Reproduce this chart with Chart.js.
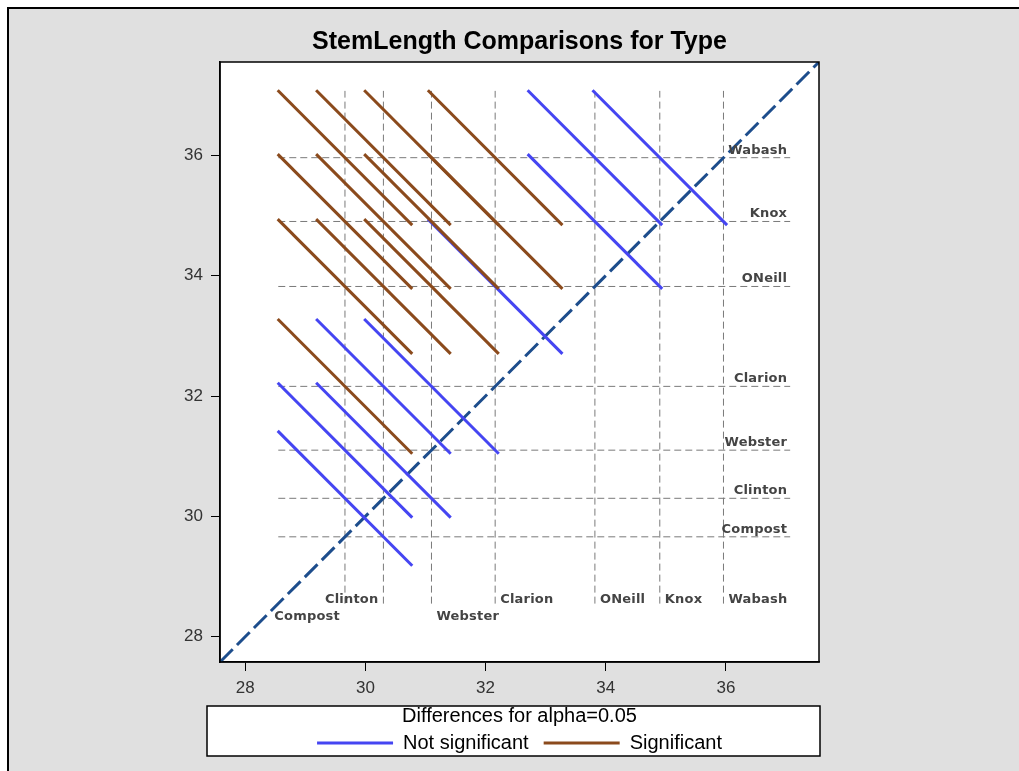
<!DOCTYPE html>
<html>
<head>
<title>StemLength Comparisons for Type</title>
<script src="https://cdn.jsdelivr.net/npm/chart.js"></script>
<style>
  body { margin: 0; background: #fff; }
  #wrap { width: 1019px; height: 771px; }
</style>
</head>
<body>
<div id="wrap"><canvas id="chart"></canvas></div>
<script>
// group means (LS-means of StemLength by Type)
const types = ['Compost', 'Clinton', 'Webster', 'Clarion', 'ONeill', 'Knox', 'Wabash'];
const means = [29.66, 30.30, 31.10, 32.16, 33.82, 34.90, 35.96];

// pairwise comparisons: index of lower / higher mean, significance at alpha=0.05
const pairLow  = [0, 0, 0, 0, 0, 0, 1, 1, 1, 1, 1, 2, 2, 2, 2, 3, 3, 3, 4, 4, 5];
const pairHigh = [1, 2, 3, 4, 5, 6, 2, 3, 4, 5, 6, 3, 4, 5, 6, 4, 5, 6, 5, 6, 6];
const significant = [0, 0, 1, 1, 1, 1, 0, 0, 1, 1, 1, 0, 1, 1, 1, 0, 1, 1, 0, 0, 0];
const halfWidth = 1.12;   // half of the LSD interval

// extent of the reference lines
const refLo = 28.55;
const refHi = 37.07;

const axisMin = 27.58, axisMax = 37.55;
const tickValues = [28, 30, 32, 34, 36];

const BLUE = '#4545f2';
const BROWN = '#8b4a1c';
const DIAG = '#1d4d8c';
const REF = '#7a7a7a';

const datasets = [];

// diffogram segments, slope -1, centred on (mean low, mean high)
pairLow.forEach((lo, i) => {
  const hi = pairHigh[i];
  const sig = significant[i] === 1;
  datasets.push({
    data: [
      { x: means[lo] - halfWidth, y: means[hi] + halfWidth },
      { x: means[lo] + halfWidth, y: means[hi] - halfWidth }
    ],
    borderColor: sig ? BROWN : BLUE,
    borderWidth: 3,
    order: sig ? 0 : 1
  });
});

// diagonal
datasets.push({
  data: [{ x: axisMin, y: axisMin }, { x: axisMax, y: axisMax }],
  borderColor: DIAG,
  borderWidth: 3,
  borderDash: [18, 6],
  order: 2
});

// reference lines at each mean
means.forEach(m => {
  datasets.push({
    data: [{ x: refLo, y: m }, { x: refHi, y: m }],
    borderColor: REF, borderWidth: 1, borderDash: [7, 4], order: 3
  });
  datasets.push({
    data: [{ x: m, y: refLo }, { x: m, y: refHi }],
    borderColor: REF, borderWidth: 1, borderDash: [7, 4], order: 3
  });
});

// where the type names go (row 1/2 at the bottom, side of the vertical line)
const bottomPlace = {
  Compost: { row: 2, side: 'left' },
  Clinton: { row: 1, side: 'left' },
  Webster: { row: 2, side: 'right' },
  Clarion: { row: 1, side: 'right' },
  ONeill:  { row: 1, side: 'right' },
  Knox:    { row: 1, side: 'right' },
  Wabash:  { row: 1, side: 'right' }
};

const framePlugin = {
  id: 'frame',
  beforeDraw(chart) {
    const ctx = chart.ctx;
    const a = chart.chartArea;
    const lg = chart.legend;
    ctx.save();
    ctx.fillStyle = '#e0e0e0';
    ctx.fillRect(8, 8, chart.width - 8, chart.height - 8);
    ctx.strokeStyle = '#000';
    ctx.lineWidth = 2;
    ctx.beginPath();
    ctx.moveTo(8, chart.height);
    ctx.lineTo(8, 8);
    ctx.lineTo(chart.width, 8);
    ctx.stroke();
    ctx.fillStyle = '#fff';
    ctx.fillRect(a.left, a.top, a.right - a.left, a.bottom - a.top);
    ctx.fillRect(a.left - 13, lg.top, a.right - a.left + 14, 50);
    ctx.restore();
  },
  afterDraw(chart) {
    const ctx = chart.ctx;
    const a = chart.chartArea;
    const xs = chart.scales.x, ys = chart.scales.y;
    ctx.save();
    // type labels
    ctx.font = 'bold 13px "DejaVu Sans"';
    ctx.fillStyle = '#444';
    if ('letterSpacing' in ctx) ctx.letterSpacing = '0.2px';
    ctx.textAlign = 'right';
    ctx.textBaseline = 'alphabetic';
    types.forEach((t, i) => {
      ctx.fillText(t, xs.getPixelForValue(refHi) - 3, ys.getPixelForValue(means[i]) - 4);
    });
    types.forEach((t, i) => {
      const p = bottomPlace[t];
      const x = xs.getPixelForValue(means[i]);
      const y = ys.getPixelForValue(refLo) + (p.row === 1 ? -1 : 16);
      ctx.textAlign = p.side === 'left' ? 'right' : 'left';
      ctx.fillText(t, p.side === 'left' ? x - 5 : x + 5, y);
    });
    if ('letterSpacing' in ctx) ctx.letterSpacing = '0px';
    // plot border
    ctx.strokeStyle = '#000';
    ctx.lineWidth = 1.5;
    ctx.strokeRect(a.left, a.top, a.right - a.left, a.bottom - a.top);
    // legend box
    const lg = chart.legend;
    ctx.strokeRect(a.left - 13, lg.top, a.right - a.left + 14, 50);
    ctx.restore();
  }
};

new Chart(document.getElementById('chart'), {
  type: 'scatter',
  data: { datasets: datasets },
  options: {
    responsive: true,
    maintainAspectRatio: false,
    animation: false,
    showLine: true,
    elements: { point: { radius: 0, hoverRadius: 0 }, line: { borderCapStyle: 'butt' } },
    layout: { padding: { left: 0, right: 200, top: 0, bottom: 8 } },
    scales: {
      x: {
        type: 'linear',
        min: axisMin, max: axisMax,
        afterBuildTicks: s => { s.ticks = tickValues.map(v => ({ value: v })); },
        afterFit: s => { s.height = 44; },
        ticks: { color: '#333', font: { family: 'Liberation Sans', size: 17 }, padding: 7 },
        grid: { drawOnChartArea: false, drawTicks: true, tickLength: 9, color: '#000' },
        border: { color: '#000', width: 1.5 }
      },
      y: {
        type: 'linear',
        min: axisMin, max: axisMax,
        afterBuildTicks: s => { s.ticks = tickValues.map(v => ({ value: v })); },
        afterFit: s => { s.width = 220; },
        ticks: { color: '#333', font: { family: 'Liberation Sans', size: 17 }, padding: 8 },
        grid: { drawOnChartArea: false, drawTicks: true, tickLength: 9, color: '#000' },
        border: { color: '#000', width: 1.5 }
      }
    },
    plugins: {
      title: {
        display: true,
        fullSize: false,
        text: 'StemLength Comparisons for Type',
        color: '#000',
        font: { family: 'Liberation Sans', size: 25, weight: 'bold', lineHeight: 1.2 },
        padding: { top: 27, bottom: 5 }
      },
      legend: {
        position: 'bottom',
        fullSize: false,
        onClick: null,
        title: {
          display: true,
          text: 'Differences for alpha=0.05',
          color: '#000',
          font: { family: 'Liberation Sans', size: 20, lineHeight: 1.2 },
          padding: { top: 0, bottom: -12 }
        },
        labels: {
          color: '#000',
          font: { family: 'Liberation Sans', size: 20 },
          boxWidth: 76,
          boxHeight: 3,
          padding: 15,
          generateLabels: () => [
            { text: 'Not significant', fillStyle: BLUE, strokeStyle: BLUE, lineWidth: 0, fontColor: '#000' },
            { text: 'Significant', fillStyle: BROWN, strokeStyle: BROWN, lineWidth: 0, fontColor: '#000' }
          ]
        }
      },
      tooltip: { enabled: false }
    }
  },
  plugins: [framePlugin]
});
</script>
</body>
</html>
